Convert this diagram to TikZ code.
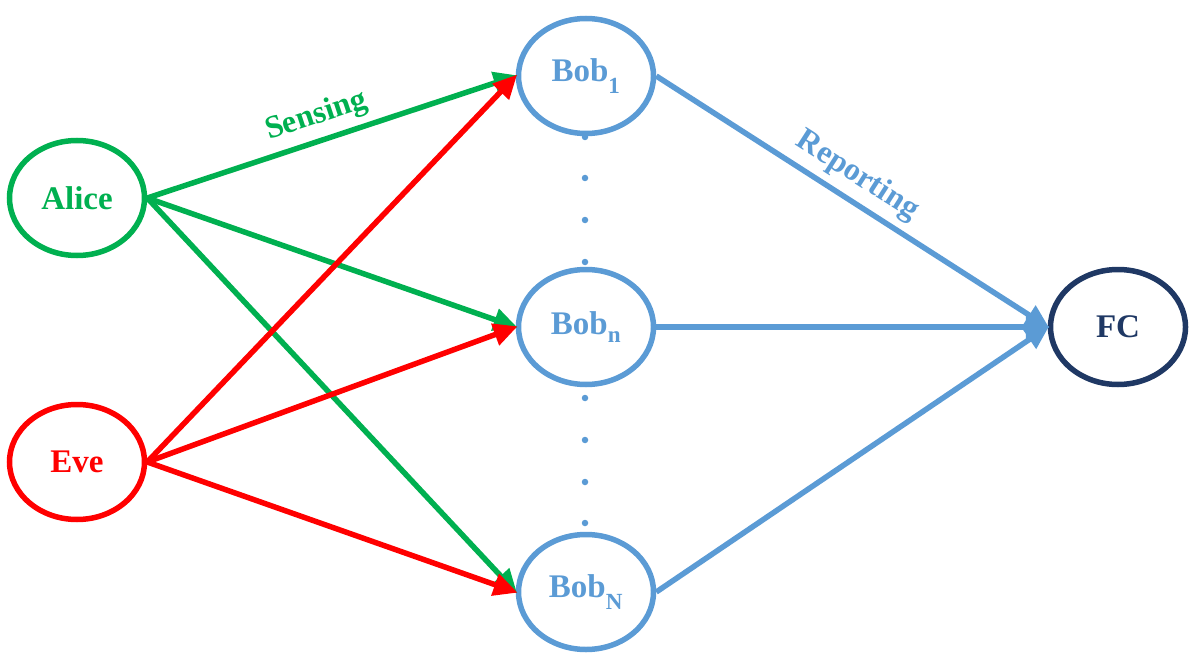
\documentclass[tikz,border=0pt]{standalone}
\usepackage{fontspec}
\setmainfont{Liberation Serif}
\usetikzlibrary{shapes.geometric,arrows.meta}
\definecolor{agreen}{RGB}{0,176,80}
\definecolor{ered}{RGB}{255,0,0}
\definecolor{bblue}{RGB}{91,155,213}
\definecolor{fcnavy}{RGB}{31,56,100}
\tikzset{
  party/.style={ellipse, line width=5.5pt, minimum width=135pt, minimum height=115pt, inner sep=0pt, font=\fontsize{33}{36}\selectfont\bfseries},
  conn/.style={line width=5.5pt, -{Triangle[length=24pt,width=22pt]}, shorten >=-2pt},
  dotmark/.style={circle, fill=bblue, inner sep=0pt, minimum size=6.5pt},
  lbl/.style={font=\fontsize{32}{35}\selectfont\bfseries, sloped, above, inner sep=7pt}
}
\newcommand{\lowsub}[1]{\raisebox{-0.3ex}{\textsubscript{#1}}}
\begin{document}
\begin{tikzpicture}[x=1pt,y=-1pt]
\useasboundingbox (0,0) rectangle (1196,663);
\node[party, draw=agreen, text=agreen] (alice) at (77,198) {Alice};
\node[party, draw=ered, text=ered] (eve) at (77,462) {Eve};
\node[party, draw=bblue, text=bblue] (bob1) at (586,76) {Bob\lowsub{1}};
\node[party, draw=bblue, text=bblue] (bobn) at (586,327) {Bob\lowsub{n}};
\node[party, draw=bblue, text=bblue] (bobN) at (586,592) {Bob\lowsub{N}};
\node[party, draw=fcnavy, text=fcnavy] (fc) at (1118,327) {FC};
\foreach \y [count=\i] in {137,178,220,262,398,440,482,523}
  \node[dotmark] (d\i) at (585,\y) {};
\draw[conn, agreen] (alice.east) -- node[lbl, pos=0.48, text=agreen] {Sensing} (bob1.west);
\draw[conn, agreen] (alice.east) -- (bobn.west);
\draw[conn, agreen] (alice.east) -- (bobN.west);
\draw[conn, ered] (eve.east) -- (bob1.west);
\draw[conn, ered] (eve.east) -- (bobn.west);
\draw[conn, ered] (eve.east) -- (bobN.west);
\draw[conn, bblue] (bob1.east) -- node[lbl, pos=0.48, text=bblue] {Reporting} (fc.west);
\draw[conn, bblue] (bobn.east) -- (fc.west);
\draw[conn, bblue] (bobN.east) -- (fc.west);
\end{tikzpicture}
\end{document}
